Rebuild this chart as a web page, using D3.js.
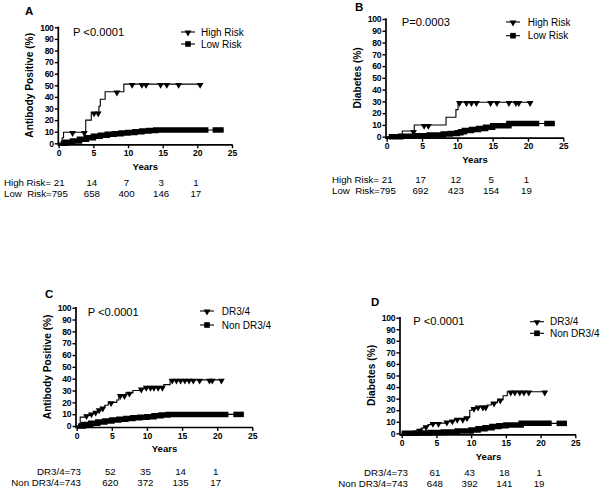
<!DOCTYPE html>
<html>
<head>
<meta charset="utf-8">
<script src="https://cdn.jsdelivr.net/npm/d3@7"></script>
<style>
  body { margin: 0; background: #fff; }
  svg { display: block; font-family: "Liberation Sans", Arial, sans-serif; }
</style>
</head>
<body>
<svg id="chart" width="600" height="489"></svg>
<script>
// ---- data ----
const xTicks = [0, 5, 10, 15, 20, 25];
const yTicks = [0, 10, 20, 30, 40, 50, 60, 70, 80, 90, 100];
const riskTimes = [5, 10, 15, 20];

// A: antibody positive, high vs low risk
const aHighSteps = [[0, 0], [0.5, 4.8], [0.7, 9.5], [3.9, 20], [4.7, 26.5], [5.8, 32], [6.0, 38], [6.7, 44.5], [9.4, 51], [20.4, 51]];
const aHighCensor = [2.0, 3.7, 5.1, 5.7, 8.4, 10.6, 12.0, 12.6, 14.7, 15.6, 17.3, 20.4];
const aLowSteps = [[0, 0], [1, 1], [2, 2], [3, 3.5], [4, 4.8], [5, 6], [6, 7], [7, 7.8], [8, 8.3], [9, 8.8], [10, 9.4], [11, 10], [12, 10.6], [13, 11.1], [14, 11.5], [23.8, 11.5]];
const aLowBands = [[0.3, 21.6], [22.2, 23.8]];
const aRiskLabels = ["High Risk= 21", "Low  Risk=795"];
const aRiskHigh = [14, 7, 3, 1];
const aRiskLow = [658, 400, 146, 17];

// B: diabetes, high vs low risk
const bHighSteps = [[0, 0], [2.2, 4.8], [3.9, 9.9], [8.4, 16.5], [9.8, 23], [10.1, 29.3], [20.3, 29.3]];
const bHighCensor = [3.8, 5.3, 5.9, 10.3, 11.3, 12.0, 12.7, 14.7, 15.6, 17.3, 18.3, 18.7, 20.3];
const bLowSteps = [[0, 0], [2, 0.3], [4, 0.8], [6, 1.5], [8, 2.2], [9, 2.7], [10, 3.4], [10.5, 4.2], [11, 5.2], [12, 6.2], [13, 7], [14, 8], [15, 9.3], [17.3, 11.2], [23.8, 11.2]];
const bLowBands = [[0.3, 21.6], [22.3, 23.8]];
const bRiskLabels = ["High Risk= 21", "Low  Risk=795"];
const bRiskHigh = [17, 12, 5, 1];
const bRiskLow = [692, 423, 154, 19];

// C: antibody positive, DR3/4 vs non DR3/4
const cHighSteps = [[0, 0], [0.5, 7.5], [1.2, 9], [1.8, 10.5], [2.4, 12], [3, 14], [3.5, 15.5], [4, 17.5], [4.5, 20], [5.7, 22], [6, 26], [7, 28], [8, 30], [9, 31.5], [9.8, 33], [12.4, 35], [13.3, 39], [20.6, 39]];
const cHighCensor = [1.4, 2.1, 2.7, 3.2, 3.7, 4.9, 6.2, 6.8, 7.5, 9.2, 9.9, 10.5, 11.0, 11.6, 12.2, 13.6, 14.2, 14.8, 15.4, 16.0, 16.6, 17.5, 18.9, 19.3, 20.6];
const cLowSteps = [[0, 0], [1, 1.2], [2, 2.3], [3, 3.3], [4, 4.3], [5, 5.1], [6, 5.8], [7, 6.4], [8, 6.9], [9, 7.4], [10, 7.9], [11, 8.6], [12, 9.3], [13, 9.8], [23.8, 9.8]];
const cLowBands = [[0.2, 21.6], [22.3, 23.8]];
const cRiskLabels = ["DR3/4=73", "Non DR3/4=743"];
const cRiskHigh = [52, 35, 14, 1];
const cRiskLow = [620, 372, 135, 17];

// D: diabetes, DR3/4 vs non DR3/4
const dHighSteps = [[0, 0], [1.6, 1.5], [2.2, 3], [2.8, 4.5], [3.2, 6], [3.8, 7.5], [4.2, 8.8], [6.3, 10], [7, 11], [7.6, 12.4], [9, 13.8], [9.8, 20], [10.1, 21.8], [10.8, 23], [12.3, 24.5], [12.9, 26.5], [13.8, 29], [14.6, 32.5], [15.2, 36], [20.6, 36]];
const dHighCensor = [2.6, 3.5, 4.5, 5.3, 6.5, 7.3, 8.0, 8.8, 9.4, 10.4, 11.0, 11.7, 12.1, 13.3, 14.2, 15.7, 16.3, 17.0, 17.6, 18.3, 20.6];
const dLowSteps = [[0, 0], [2, 0.2], [4, 0.6], [6, 1.2], [8, 2], [10, 2.9], [11, 4], [12, 4.9], [13, 5.8], [14, 6.6], [15, 7.2], [17.2, 8.6], [23.8, 8.6]];
const dLowBands = [[0, 21.6], [22.3, 23.8]];
const dRiskLabels = ["DR3/4=73", "Non DR3/4=743"];
const dRiskHigh = [61, 43, 18, 1];
const dRiskLow = [648, 392, 141, 19];

// ---- layout per panel ----
const panels = [
  { letter: "A", letterPos: [25, 15], x0: 58.7, x1: 232, y0: 143.3, y1: 27.3, axisX: 58.3,
    yLabel: "Antibody Positive (%)", pText: "P <0.0001", pPos: [73, 32],
    legendX: 188, legendTextX: 201, legendY: [32, 44], names: ["High Risk", "Low Risk"],
    riskY: [182.3, 193.3], riskLabelX: 4, riskAnchor: "start",
    high: aHighSteps, highCensor: aHighCensor, low: aLowSteps, lowBands: aLowBands,
    riskLabels: aRiskLabels, riskHigh: aRiskHigh, riskLow: aRiskLow },
  { letter: "B", letterPos: [355, 11], x0: 386.7, x1: 563.3, y0: 136.7, y1: 19, axisX: 386,
    yLabel: "Diabetes (%)", pText: "P=0.0003", pPos: [401.7, 22],
    legendX: 513, legendTextX: 527.7, legendY: [22, 35.7], names: ["High Risk", "Low Risk"],
    riskY: [179, 190.7], riskLabelX: 332, riskAnchor: "start",
    high: bHighSteps, highCensor: bHighCensor, low: bLowSteps, lowBands: bLowBands,
    riskLabels: bRiskLabels, riskHigh: bRiskHigh, riskLow: bRiskLow },
  { letter: "C", letterPos: [45, 298], x0: 76.7, x1: 252.3, y0: 426, y1: 307.7, axisX: 76,
    yLabel: "Antibody Positive (%)", pText: "P <0.0001", pPos: [87.7, 311.7],
    legendX: 207, legendTextX: 221.7, legendY: [311, 325], names: ["DR3/4", "Non DR3/4"],
    riskY: [471.7, 482.7], riskLabelX: 81, riskAnchor: "end",
    high: cHighSteps, highCensor: cHighCensor, low: cLowSteps, lowBands: cLowBands,
    riskLabels: cRiskLabels, riskHigh: cRiskHigh, riskLow: cRiskLow },
  { letter: "D", letterPos: [371, 305.5], x0: 401.7, x1: 575.3, y0: 433.3, y1: 317.7, axisX: 400,
    yLabel: "Diabetes (%)", pText: "P <0.0001", pPos: [413.3, 321],
    legendX: 537, legendTextX: 550, legendY: [321.7, 333.3], names: ["DR3/4", "Non DR3/4"],
    riskY: [472.7, 483.3], riskLabelX: 408, riskAnchor: "end",
    high: dHighSteps, highCensor: dHighCensor, low: dLowSteps, lowBands: dLowBands,
    riskLabels: dRiskLabels, riskHigh: dRiskHigh, riskLow: dRiskLow }
];

const svg = d3.select("#chart");

function stepAt(steps, t) {
  let v = steps[0][1];
  for (const s of steps) { if (s[0] <= t) v = s[1]; }
  return v;
}

function drawPanel(p) {
  const g = svg.append("g").attr("class", "panel-" + p.letter);
  const x = d3.scaleLinear().domain([0, 25]).range([p.x0, p.x1]);
  const y = d3.scaleLinear().domain([0, 100]).range([p.y0, p.y1]);
  const xAxisY = p.y0 + 1.5;

  g.append("text")
    .attr("x", p.letterPos[0]).attr("y", p.letterPos[1])
    .attr("font-size", 11.5).attr("font-weight", "bold")
    .text(p.letter);

  // y axis
  const yAxis = g.append("g")
    .attr("transform", `translate(${p.axisX},0)`)
    .call(d3.axisLeft(y).tickValues(yTicks).tickSize(3.5).tickPadding(1.2))
    .call(a => a.select(".domain").remove());
  yAxis.selectAll(".tick line").attr("stroke", "#000").attr("stroke-width", 1.4);
  yAxis.selectAll(".tick text")
    .attr("font-family", "Liberation Sans, Arial, sans-serif")
    .attr("font-size", 8.6).attr("font-weight", "bold").attr("fill", "#000")
    .attr("letter-spacing", -0.3);
  g.append("line")
    .attr("x1", p.axisX).attr("x2", p.axisX)
    .attr("y1", y(100) - 0.7).attr("y2", xAxisY + 0.8)
    .attr("stroke", "#000").attr("stroke-width", 1.7);

  // x axis
  const xAxis = g.append("g")
    .attr("transform", `translate(0,${xAxisY})`)
    .call(d3.axisBottom(x).tickValues(xTicks).tickSize(3.5).tickPadding(1.5))
    .call(a => a.select(".domain").remove());
  xAxis.selectAll(".tick line").attr("stroke", "#000").attr("stroke-width", 1.4);
  xAxis.selectAll(".tick text")
    .attr("font-family", "Liberation Sans, Arial, sans-serif")
    .attr("font-size", 8.6).attr("font-weight", "bold").attr("fill", "#000");
  g.append("line")
    .attr("x1", p.axisX).attr("x2", x(25) + 0.7)
    .attr("y1", xAxisY).attr("y2", xAxisY)
    .attr("stroke", "#000").attr("stroke-width", 1.7);

  g.append("text")
    .attr("transform", `translate(${p.axisX - 28.5},${(p.y0 + p.y1) / 2}) rotate(-90)`)
    .attr("text-anchor", "middle").attr("dominant-baseline", "central")
    .attr("font-size", 10.2).attr("font-weight", "bold")
    .text(p.yLabel);

  g.append("text")
    .attr("x", (p.x0 + p.x1) / 2).attr("y", xAxisY + 21.3)
    .attr("text-anchor", "middle").attr("dominant-baseline", "central")
    .attr("font-size", 9.6).attr("font-weight", "bold")
    .text("Years");

  const line = d3.line().x(d => x(d[0])).y(d => y(d[1])).curve(d3.curveStepAfter);

  // low group: thin curve plus a band of dense censor squares
  g.append("path").attr("d", line(p.low))
    .attr("fill", "none").attr("stroke", "#000").attr("stroke-width", 1.1);
  p.lowBands.forEach(([a, b]) => {
    const pts = [[a, stepAt(p.low, a)]]
      .concat(p.low.filter(s => s[0] > a && s[0] < b))
      .concat([[b, stepAt(p.low, b)]]);
    g.append("path").attr("d", line(pts))
      .attr("fill", "none").attr("stroke", "#000").attr("stroke-width", 5.5)
      .attr("stroke-linejoin", "miter");
  });

  // high group: step curve with censor triangles
  g.append("path").attr("d", line(p.high))
    .attr("fill", "none").attr("stroke", "#000").attr("stroke-width", 1.1);
  const tri = d3.symbol(d3.symbolTriangle, 20);
  g.selectAll(".cens")
    .data(p.highCensor)
    .enter().append("path")
    .attr("class", "cens")
    .attr("d", tri)
    .attr("transform", t => `translate(${x(t)},${y(stepAt(p.high, t)) + 0.8}) rotate(180)`)
    .attr("fill", "#000");

  // p value
  g.append("text")
    .attr("x", p.pPos[0]).attr("y", p.pPos[1])
    .attr("dominant-baseline", "central")
    .attr("font-size", 11.2)
    .text(p.pText);

  // legend
  p.names.forEach((name, i) => {
    const ly = p.legendY[i];
    g.append("line")
      .attr("x1", p.legendX - 7).attr("x2", p.legendX + 7)
      .attr("y1", ly).attr("y2", ly)
      .attr("stroke", "#000").attr("stroke-width", 1.1);
    if (i === 0) {
      g.append("path").attr("d", tri)
        .attr("transform", `translate(${p.legendX},${ly + 0.5}) rotate(180)`)
        .attr("fill", "#000");
    } else {
      g.append("rect")
        .attr("x", p.legendX - 2.8).attr("y", ly - 2.8)
        .attr("width", 5.6).attr("height", 5.6)
        .attr("fill", "#000");
    }
    g.append("text")
      .attr("x", p.legendTextX).attr("y", ly)
      .attr("dominant-baseline", "central")
      .attr("font-size", 10)
      .text(name);
  });

  // numbers at risk
  [p.riskHigh, p.riskLow].forEach((vals, i) => {
    g.append("text")
      .attr("x", p.riskLabelX).attr("y", p.riskY[i])
      .attr("text-anchor", p.riskAnchor)
      .attr("dominant-baseline", "central")
      .attr("font-size", 9.7)
      .attr("xml:space", "preserve")
      .style("white-space", "pre")
      .text(p.riskLabels[i]);
    g.selectAll(null)
      .data(vals)
      .enter().append("text")
      .attr("x", (d, j) => x(riskTimes[j]) - 1.5)
      .attr("y", p.riskY[i])
      .attr("text-anchor", "middle")
      .attr("dominant-baseline", "central")
      .attr("font-size", 9.7)
      .text(d => d);
  });
}

panels.forEach(drawPanel);
</script>
</body>
</html>
